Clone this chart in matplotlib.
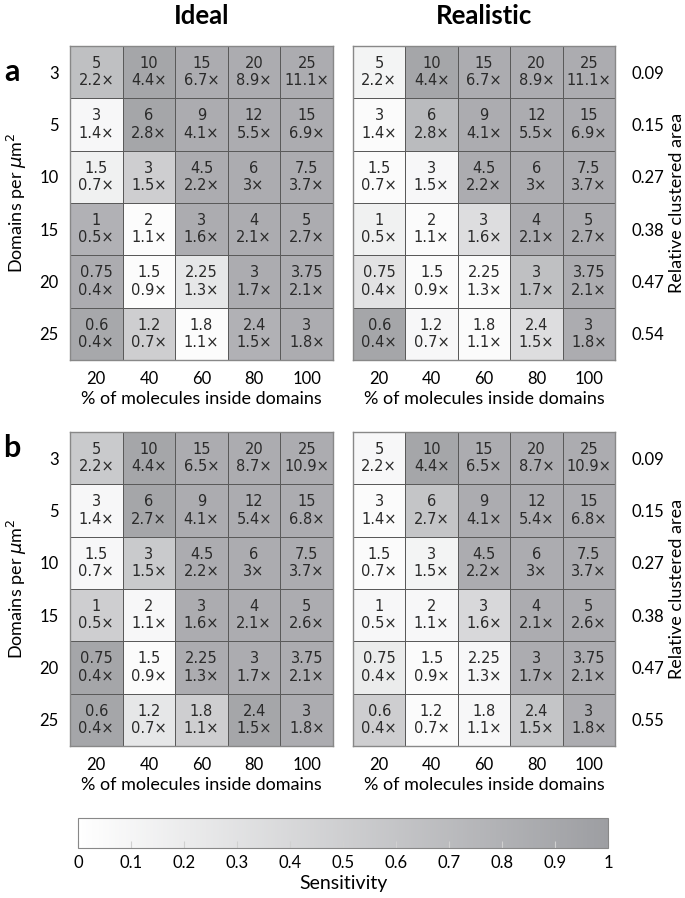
import matplotlib
matplotlib.use("Agg")
import matplotlib.pyplot as plt
from matplotlib.colors import LinearSegmentedColormap
import numpy as np

# data
pct = [20, 40, 60, 80, 100]
domains = [3, 5, 10, 15, 20, 25]
area_a = ["0.09", "0.15", "0.27", "0.38", "0.47", "0.54"]
area_b = ["0.09", "0.15", "0.27", "0.38", "0.47", "0.55"]

density = [["5", "10", "15", "20", "25"],
           ["3", "6", "9", "12", "15"],
           ["1.5", "3", "4.5", "6", "7.5"],
           ["1", "2", "3", "4", "5"],
           ["0.75", "1.5", "2.25", "3", "3.75"],
           ["0.6", "1.2", "1.8", "2.4", "3"]]

ratio_a = [["2.2", "4.4", "6.7", "8.9", "11.1"],
           ["1.4", "2.8", "4.1", "5.5", "6.9"],
           ["0.7", "1.5", "2.2", "3", "3.7"],
           ["0.5", "1.1", "1.6", "2.1", "2.7"],
           ["0.4", "0.9", "1.3", "1.7", "2.1"],
           ["0.4", "0.7", "1.1", "1.5", "1.8"]]
ratio_b = [["2.2", "4.4", "6.5", "8.7", "10.9"],
           ["1.4", "2.7", "4.1", "5.4", "6.8"],
           ["0.7", "1.5", "2.2", "3", "3.7"],
           ["0.5", "1.1", "1.6", "2.1", "2.6"],
           ["0.4", "0.9", "1.3", "1.7", "2.1"],
           ["0.4", "0.7", "1.1", "1.5", "1.8"]]

# sensitivity (estimated from grey level)
sens_a_ideal = [[0.65, 0.92, 0.85, 0.85, 0.85],
                [0.08, 0.92, 0.85, 0.85, 0.85],
                [0.15, 0.5, 0.85, 0.85, 0.85],
                [0.8, 0.03, 0.85, 0.85, 0.85],
                [0.85, 0.03, 0.25, 0.85, 0.85],
                [0.9, 0.5, 0.03, 0.8, 0.85]]
sens_a_real = [[0.12, 0.92, 0.85, 0.85, 0.85],
               [0.04, 0.7, 0.85, 0.85, 0.85],
               [0.04, 0.08, 0.85, 0.85, 0.85],
               [0.15, 0.04, 0.35, 0.85, 0.85],
               [0.3, 0.04, 0.04, 0.65, 0.85],
               [0.92, 0.08, 0.04, 0.35, 0.85]]
sens_b_ideal = [[0.55, 0.92, 0.85, 0.85, 0.85],
                [0.08, 0.92, 0.85, 0.85, 0.85],
                [0.08, 0.55, 0.85, 0.85, 0.85],
                [0.5, 0.08, 0.85, 0.85, 0.85],
                [0.92, 0.04, 0.85, 0.85, 0.85],
                [0.92, 0.25, 0.5, 0.92, 0.85]]
sens_b_real = [[0.08, 0.92, 0.85, 0.85, 0.85],
               [0.04, 0.6, 0.85, 0.85, 0.85],
               [0.04, 0.12, 0.85, 0.85, 0.85],
               [0.08, 0.08, 0.4, 0.85, 0.85],
               [0.2, 0.04, 0.08, 0.85, 0.85],
               [0.5, 0.04, 0.08, 0.6, 0.85]]

W, H = 685, 898
cmap = LinearSegmentedColormap.from_list("grey", ["#ffffff", "#9d9ea2"])
lab_font = "Lato"

fig = plt.figure(figsize=(W / 100, H / 100), dpi=100)


def px_axes(x0, y0, x1, y1):
    return fig.add_axes([x0 / W, 1 - y1 / H, (x1 - x0) / W, (y1 - y0) / H])


def heat(ax, sens, ratio, left=True, area=None):
    s = np.array(sens)
    ax.pcolormesh(s, cmap=cmap, vmin=0, vmax=1, edgecolors="#5a5a5a", linewidth=0.6)
    ax.set_xlim(0, 5)
    ax.set_ylim(6, 0)
    for i in range(6):
        for j in range(5):
            ax.text(j + 0.5, i + 0.5, density[i][j] + "\n" + ratio[i][j] + "\u00d7",
                    ha="center", va="center", fontsize=10.5, color="#2a2a2a",
                    linespacing=1.2, family="DejaVu Sans")
    ax.set_xticks(np.arange(5) + 0.5)
    ax.set_xticklabels([str(p) for p in pct], family=lab_font, fontsize=12)
    ax.tick_params(length=0, pad=8)
    ax.set_xlabel("% of molecules inside domains", family=lab_font, fontsize=13, labelpad=3)
    ax.set_yticks(np.arange(6) + 0.5)
    if left:
        ax.set_yticklabels([str(d) for d in domains], family=lab_font, fontsize=12)
        ax.set_ylabel("Domains per $\\mu$m$^2$", family=lab_font, fontsize=13, labelpad=8)
    else:
        ax.yaxis.tick_right()
        ax.set_yticklabels(area, family=lab_font, fontsize=12)
        ax.tick_params(axis="y", pad=12)
        cy = ax.get_position()
        fig.text(677 / W, (cy.y0 + cy.y1) / 2, "Relative clustered area", rotation=90,
                 ha="center", va="center", family=lab_font, fontsize=13)
    for sp in ax.spines.values():
        sp.set_color("#888888")
        sp.set_linewidth(1)


ax1 = px_axes(70, 46, 333, 360)
ax2 = px_axes(353, 46, 615, 360)
ax3 = px_axes(70, 432, 333, 746)
ax4 = px_axes(353, 432, 615, 746)
heat(ax1, sens_a_ideal, ratio_a)
heat(ax2, sens_a_real, ratio_a, left=False, area=area_a)
heat(ax3, sens_b_ideal, ratio_b)
heat(ax4, sens_b_real, ratio_b, left=False, area=area_b)

fig.text(202 / W, 1 - 16 / H, "Ideal", ha="center", va="center", fontsize=18.5,
         fontweight="bold", family=lab_font)
fig.text(484 / W, 1 - 16 / H, "Realistic", ha="center", va="center", fontsize=18.5,
         fontweight="bold", family=lab_font)
fig.text(12 / W, 1 - 72 / H, "a", ha="center", va="center", fontsize=22,
         fontweight="bold", family=lab_font)
fig.text(12 / W, 1 - 448 / H, "b", ha="center", va="center", fontsize=22,
         fontweight="bold", family=lab_font)

cax = px_axes(78, 818, 608, 848)
cb = fig.colorbar(matplotlib.cm.ScalarMappable(cmap=cmap, norm=plt.Normalize(0, 1)),
                  cax=cax, orientation="horizontal")
ticks = [0, 0.1, 0.2, 0.3, 0.4, 0.5, 0.6, 0.7, 0.8, 0.9, 1]
cb.set_ticks(ticks)
cb.set_ticklabels(["0", "0.1", "0.2", "0.3", "0.4", "0.5", "0.6", "0.7", "0.8", "0.9", "1"])
cax.tick_params(direction="in", length=5, color="#d0d0d0", labelsize=12, pad=5)
for t in cax.get_xticklabels():
    t.set_family(lab_font)
cb.outline.set_edgecolor("#888888")
cb.set_label("Sensitivity", family=lab_font, fontsize=14, labelpad=3)

fig.savefig("out.png", dpi=100)
